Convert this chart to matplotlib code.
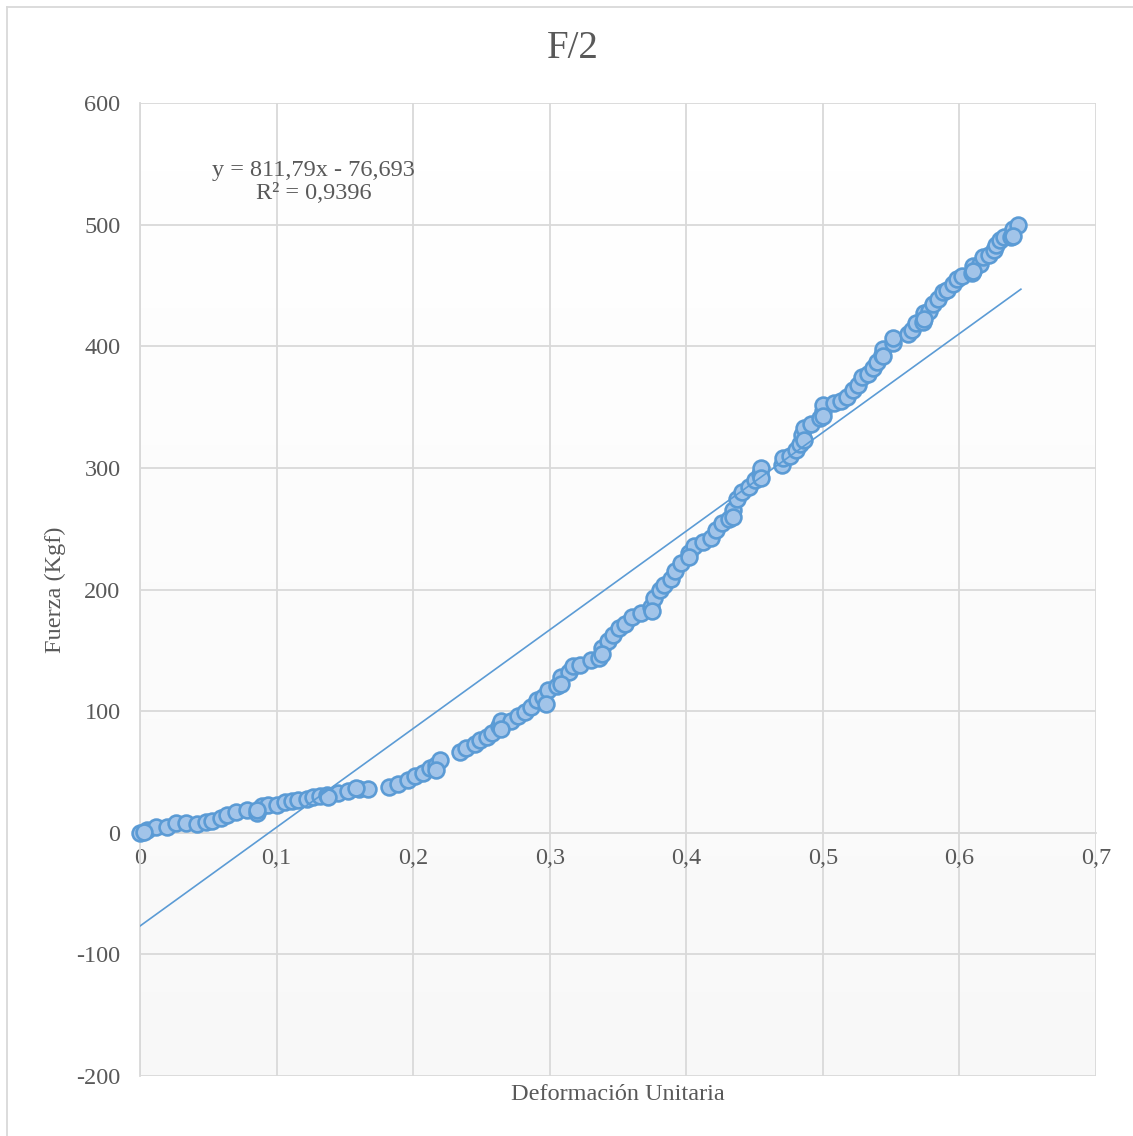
import numpy as np
import matplotlib.pyplot as plt
from matplotlib.lines import Line2D
from matplotlib.ticker import FuncFormatter

# deformation (x) and force (y)
deformacion = [0.000, 0.005, 0.012, 0.020, 0.026, 0.034, 0.042, 0.048, 0.053, 0.059,
               0.064, 0.070, 0.078, 0.086, 0.089, 0.094, 0.100, 0.106, 0.111, 0.116,
               0.122, 0.127, 0.132, 0.137, 0.145, 0.152, 0.160, 0.167,
               0.182, 0.189, 0.196, 0.201, 0.207, 0.212, 0.217, 0.220,
               0.234, 0.239, 0.245, 0.249, 0.254, 0.258, 0.263, 0.264, 0.272, 0.277,
               0.282, 0.286, 0.291, 0.295, 0.299, 0.305, 0.308, 0.314, 0.317, 0.322,
               0.330, 0.336, 0.338, 0.343, 0.346, 0.351, 0.355, 0.360, 0.367, 0.374,
               0.376, 0.381, 0.384, 0.389, 0.392, 0.396, 0.402, 0.406, 0.412, 0.418,
               0.422, 0.426, 0.431, 0.434, 0.437, 0.441, 0.446, 0.450, 0.454, 0.455,
               0.470, 0.471, 0.476, 0.480, 0.483, 0.485, 0.486, 0.491, 0.498, 0.500,
               0.500, 0.508, 0.513, 0.518, 0.522, 0.526, 0.529, 0.533, 0.537, 0.540,
               0.543, 0.544, 0.551, 0.551, 0.562, 0.565, 0.568, 0.573, 0.574, 0.578,
               0.581, 0.584, 0.588, 0.591, 0.595, 0.598, 0.602, 0.609, 0.610, 0.615,
               0.617, 0.622, 0.625, 0.627, 0.630, 0.633, 0.638, 0.639, 0.643,
               0.003, 0.086, 0.138, 0.158, 0.264, 0.308, 0.338, 0.375, 0.402, 0.434,
               0.455, 0.486, 0.500, 0.544, 0.574, 0.610, 0.639, 0.217, 0.297]
fuerza = [0, 2, 5, 5, 8, 8, 7, 9, 10, 12,
          15, 17, 19, 16, 22, 23, 23, 25, 26, 27,
          28, 29, 30, 31, 33, 34, 36, 36,
          38, 40, 43, 47, 49, 53, 56, 60,
          66, 70, 73, 76, 79, 82, 88, 92, 92, 96,
          99, 103, 109, 112, 117, 121, 128, 132, 137, 138,
          142, 144, 152, 158, 163, 168, 172, 177, 181, 186,
          193, 200, 204, 209, 215, 222, 230, 236, 239, 242,
          249, 255, 258, 265, 274, 280, 284, 290, 295, 300,
          302, 308, 310, 315, 320, 327, 333, 336, 341, 347,
          352, 353, 355, 358, 364, 368, 375, 377, 382, 387,
          393, 398, 403, 407, 410, 413, 419, 420, 427, 429,
          435, 439, 445, 446, 451, 455, 458, 460, 466, 468,
          473, 475, 479, 483, 487, 490, 490, 496, 500,
          1, 19, 29, 37, 85, 122, 147, 182, 227, 260,
          292, 323, 343, 392, 422, 462, 491, 52, 106]

# trendline shown in the chart
pendiente = 811.79
intercepto = -76.693
x_tend = [0.0, 0.645]

W, H = 1133, 1136
fig = plt.figure(figsize=(W / 100, H / 100), dpi=100)
plt.rcParams['font.family'] = ['Liberation Serif', 'DejaVu Serif']
gris = '#595959'
azul = '#5b9bd5'
fs = 17.5

ax = fig.add_axes([140 / W, 1 - 1076 / H, (1096 - 140) / W, (1076 - 103) / H])
ax.set_xlim(0, 0.7)
ax.set_ylim(-200, 600)

# gradient background of the plot area: white at top, light grey at bottom
grad = np.linspace(0, 1, 256).reshape(-1, 1)
ax.imshow(grad, extent=[0, 0.7, -200, 600], aspect='auto', cmap='Greys_r',
          vmin=-17, vmax=1, zorder=0, origin='lower')
ax.set_facecolor('white')

ax.set_xticks(np.arange(0, 0.71, 0.1))
ax.set_yticks(np.arange(-200, 601, 100))
ax.grid(True, color='#d9d9d9', linewidth=1.3, zorder=1)
ax.set_axisbelow(True)
for s in ['top', 'right']:
    ax.spines[s].set_visible(False)
ax.spines['left'].set_color('#d9d9d9')
ax.spines['left'].set_linewidth(1.3)
ax.spines['bottom'].set_position(('data', 0))
ax.spines['bottom'].set_color('#d9d9d9')
ax.spines['bottom'].set_linewidth(1.3)
ax.tick_params(length=0, labelsize=fs, labelcolor=gris)
ax.tick_params(axis='y', pad=14)
ax.tick_params(axis='x', pad=11)
fmt = FuncFormatter(lambda v, p: ('%g' % round(v, 2)).replace('.', ','))
ax.xaxis.set_major_formatter(fmt)
ax.yaxis.set_major_formatter(FuncFormatter(lambda v, p: '%d' % v))

ax.scatter(deformacion, fuerza, s=130, facecolor='#a2c4e9', edgecolor=azul,
           linewidth=1.9, zorder=3, clip_on=False)
ax.plot(x_tend, [pendiente * x + intercepto for x in x_tend], color=azul,
        linewidth=1.2, zorder=4)

ax.text(0.127, 535, 'y = 811,79x - 76,693\nR² = 0,9396', ha='center', va='center',
        fontsize=fs, color=gris, linespacing=1.12, zorder=5)

fig.text(573 / W, 1 - 49 / H, 'F/2', ha='center', va='center', fontsize=28, color=gris)
fig.text(55 / W, 1 - 590 / H, 'Fuerza (Kgf)', ha='center', va='center', rotation=90,
         fontsize=fs, color=gris)
fig.text(618 / W, 1 - 1095 / H, 'Deformación Unitaria', ha='center', va='center',
         fontsize=fs, color=gris)

# outer chart border
fig.add_artist(Line2D([6.5 / W, 6.5 / W], [0, 1 - 7 / H], transform=fig.transFigure,
                      color='#d9d9d9', linewidth=1.3))
fig.add_artist(Line2D([6.5 / W, 1], [1 - 7 / H, 1 - 7 / H], transform=fig.transFigure,
                      color='#d9d9d9', linewidth=1.3))

fig.savefig('out.png', dpi=100)
